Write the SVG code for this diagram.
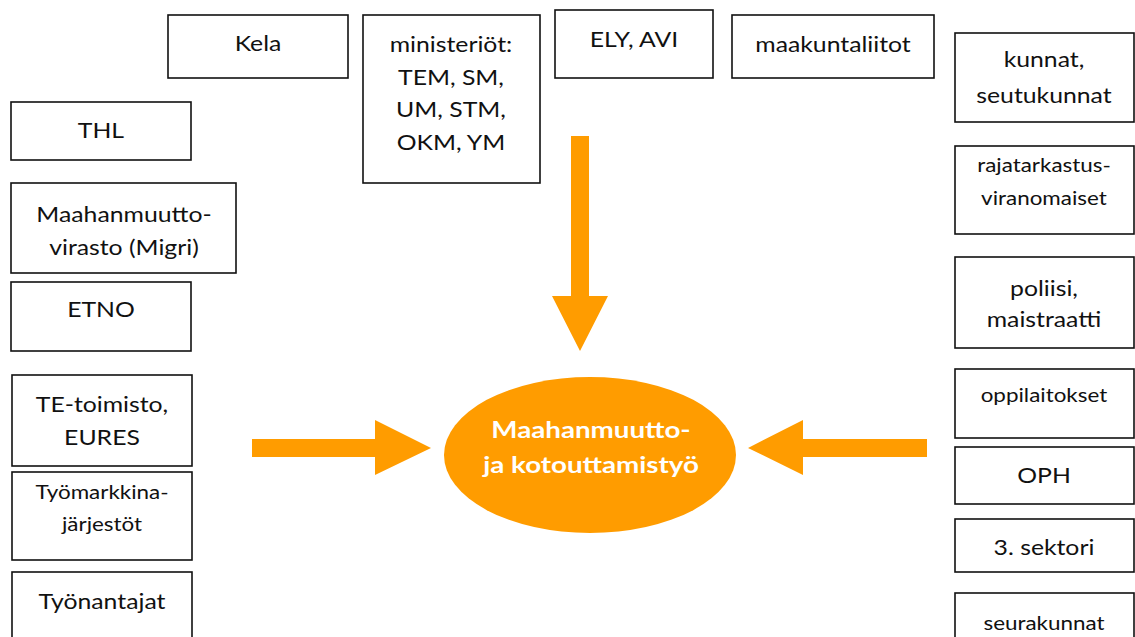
<svg xmlns="http://www.w3.org/2000/svg" width="1135" height="637" viewBox="0 0 1135 637">
<style>
.box{fill:#fff;stroke:#111;stroke-width:1.6}
.t{font-family:Lato,"Liberation Sans",sans-serif;font-size:21px;fill:#111;text-anchor:middle;transform-box:fill-box;transform-origin:center;transform:scaleX(1.18)}
.s{font-size:19px}
.c{font-family:Lato,"Liberation Sans",sans-serif;font-size:23.5px;font-weight:bold;fill:#fff;text-anchor:middle;transform-box:fill-box;transform-origin:center;transform:scaleX(1.18)}
.arr{fill:#FF9C00}
</style>
<rect width="1135" height="637" fill="#fff"/>
<g id="connectors">
<polygon class="arr" points="571,136 589,136 589,296 608,296 580,351 552,296 571,296"/>
<polygon class="arr" points="252,439 375,439 375,420 431,448 375,475 375,457 252,457"/>
<polygon class="arr" points="927,439 803,439 803,420 748,448 803,475 803,457 927,457"/>
</g>
<g id="center">
<ellipse cx="590" cy="455" rx="146" ry="78" fill="#FF9C00"/>
<text class="c" x="591" y="438">Maahanmuutto-</text>
<text class="c" x="591" y="473">ja kotouttamistyö</text>
</g>
<g id="kela"><rect class="box" x="168" y="15" width="180" height="63"/><text class="t" x="258" y="51">Kela</text></g>
<g id="ministeriot"><rect class="box" x="363" y="15" width="177" height="168"/>
<text class="t" x="451" y="52">ministeriöt:</text><text class="t" x="451" y="85">TEM, SM,</text><text class="t" x="451" y="117">UM, STM,</text><text class="t" x="451" y="150">OKM, YM</text></g>
<g id="ely"><rect class="box" x="555" y="10" width="158" height="68"/><text class="t" x="634" y="47">ELY, AVI</text></g>
<g id="maakuntaliitot"><rect class="box" x="732" y="15" width="202" height="63"/><text class="t" x="833" y="52">maakuntaliitot</text></g>
<g id="thl"><rect class="box" x="11" y="102" width="180" height="58"/><text class="t" x="101" y="138">THL</text></g>
<g id="migri"><rect class="box" x="11" y="183" width="225" height="90"/><text class="t" x="124" y="222">Maahanmuutto-</text><text class="t" x="124" y="255">virasto (Migri)</text></g>
<g id="etno"><rect class="box" x="11" y="282" width="180" height="69"/><text class="t" x="101" y="317">ETNO</text></g>
<g id="te"><rect class="box" x="12" y="375" width="180" height="91"/><text class="t" x="102" y="412">TE-toimisto,</text><text class="t" x="102" y="445">EURES</text></g>
<g id="tyomarkkina"><rect class="box" x="12" y="472" width="180" height="88"/><text class="t s" x="102" y="499">Työmarkkina-</text><text class="t s" x="102" y="531">järjestöt</text></g>
<g id="tyonantajat"><rect class="box" x="12" y="572" width="180" height="80"/><text class="t" x="102" y="609">Työnantajat</text></g>
<g id="kunnat"><rect class="box" x="955" y="33" width="179" height="89"/><text class="t" x="1044" y="67">kunnat,</text><text class="t" x="1044" y="103">seutukunnat</text></g>
<g id="rajatarkastus"><rect class="box" x="955" y="146" width="179" height="88"/><text class="t s" x="1044" y="172">rajatarkastus-</text><text class="t s" x="1044" y="205">viranomaiset</text></g>
<g id="poliisi"><rect class="box" x="955" y="257" width="179" height="91"/><text class="t" x="1044" y="296">poliisi,</text><text class="t" x="1044" y="327">maistraatti</text></g>
<g id="oppilaitokset"><rect class="box" x="955" y="369" width="179" height="69"/><text class="t s" x="1044" y="402">oppilaitokset</text></g>
<g id="oph"><rect class="box" x="955" y="447" width="179" height="57"/><text class="t" x="1044" y="483">OPH</text></g>
<g id="sektori"><rect class="box" x="955" y="519" width="179" height="53"/><text class="t" x="1044" y="555">3. sektori</text></g>
<g id="seurakunnat"><rect class="box" x="955" y="593" width="179" height="60"/><text class="t s" x="1044" y="630">seurakunnat</text></g>
</svg>
